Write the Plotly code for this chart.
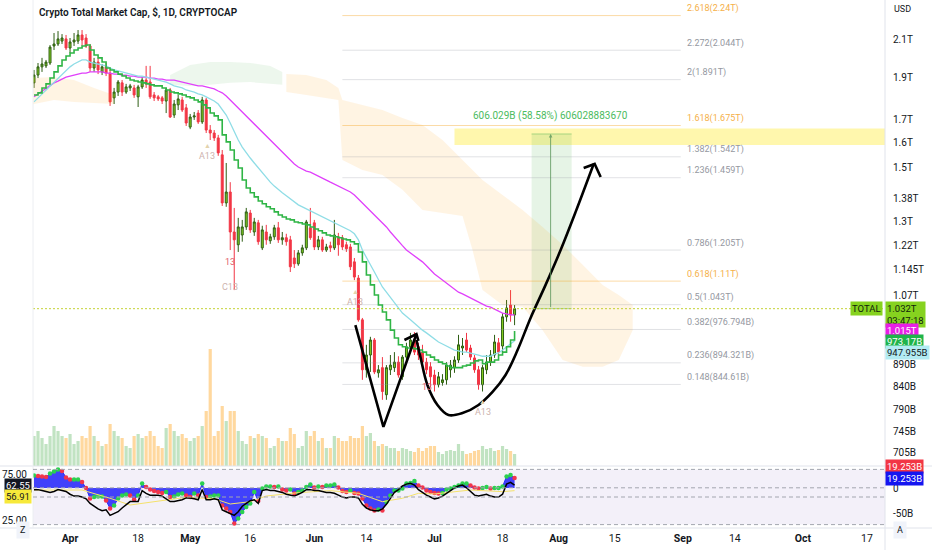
import numpy as np
import pandas as pd
import plotly.graph_objects as go

# ---- daily candles, 23 Mar - 21 Jul 2022, values in trillions of USD ----
dates = pd.date_range("2022-03-23", periods=121, freq="D")

open_t = [1.875, 1.914, 1.956, 1.961, 1.976, 2.067, 2.078, 2.094, 2.106, 2.056,
          2.089, 2.094, 2.128, 2.111, 2.067, 1.950, 1.981, 1.930, 1.956, 1.924,
          1.802, 1.830, 1.875, 1.830, 1.850, 1.850, 1.807, 1.855, 1.889, 1.879,
          1.816, 1.807, 1.802, 1.787, 1.840, 1.722, 1.769, 1.792, 1.755, 1.668,
          1.713, 1.731, 1.691, 1.792, 1.655, 1.642, 1.621, 1.550, 1.365, 1.405,
          1.264, 1.222, 1.254, 1.281, 1.329, 1.264, 1.295, 1.212, 1.264, 1.235,
          1.248, 1.278, 1.238, 1.245, 1.238, 1.180, 1.162, 1.196, 1.212, 1.278,
          1.295, 1.215, 1.238, 1.205, 1.219, 1.212, 1.248, 1.245, 1.222, 1.215,
          1.168, 1.119, 1.002, 0.878, 0.913, 0.950, 0.871, 0.883, 0.822, 0.878,
          0.883, 0.896, 0.862, 0.908, 0.933, 0.950, 0.933, 0.920, 0.896, 0.885,
          0.866, 0.844, 0.849, 0.855, 0.878, 0.883, 0.901, 0.930, 0.950, 0.930,
          0.906, 0.878, 0.844, 0.878, 0.896, 0.913, 0.943, 0.935, 1.010, 1.042,
          1.015]
high_t = [1.940, 1.976, 2.003, 1.992, 2.072, 2.139, 2.150, 2.133, 2.128, 2.111,
          2.139, 2.156, 2.156, 2.133, 2.078, 2.003, 2.003, 1.971, 1.976, 1.940,
          1.850, 1.889, 1.889, 1.870, 1.870, 1.865, 1.865, 1.904, 1.961, 1.961,
          1.830, 1.816, 1.811, 1.850, 1.850, 1.792, 1.816, 1.807, 1.773, 1.727,
          1.736, 1.745, 1.807, 1.802, 1.677, 1.655, 1.634, 1.570, 1.517, 1.442,
          1.347, 1.312, 1.305, 1.347, 1.340, 1.312, 1.305, 1.285, 1.288, 1.258,
          1.288, 1.298, 1.264, 1.258, 1.251, 1.205, 1.205, 1.222, 1.305, 1.347,
          1.305, 1.251, 1.248, 1.225, 1.232, 1.305, 1.261, 1.254, 1.232, 1.225,
          1.180, 1.128, 1.007, 0.938, 0.958, 0.955, 0.889, 0.908, 0.889, 0.913,
          0.920, 0.910, 0.913, 0.943, 0.968, 0.970, 0.943, 0.938, 0.906, 0.896,
          0.878, 0.873, 0.868, 0.896, 0.901, 0.910, 0.963, 0.955, 0.968, 0.938,
          0.913, 0.887, 0.889, 0.913, 0.925, 0.963, 0.955, 1.020, 1.056, 1.084,
          1.042]
low_t = [1.850, 1.899, 1.930, 1.950, 1.966, 2.045, 2.067, 2.078, 2.045, 2.029,
         2.067, 2.078, 2.067, 2.056, 1.930, 1.930, 1.919, 1.914, 1.909, 1.764,
         1.773, 1.811, 1.811, 1.821, 1.835, 1.802, 1.759, 1.845, 1.850, 1.797,
         1.787, 1.787, 1.773, 1.731, 1.709, 1.709, 1.745, 1.736, 1.673, 1.659,
         1.700, 1.682, 1.682, 1.642, 1.612, 1.608, 1.546, 1.354, 1.351, 1.205,
         1.084, 1.199, 1.232, 1.271, 1.261, 1.251, 1.222, 1.205, 1.222, 1.225,
         1.238, 1.228, 1.222, 1.219, 1.137, 1.149, 1.156, 1.187, 1.205, 1.238,
         1.205, 1.205, 1.199, 1.199, 1.199, 1.205, 1.187, 1.205, 1.199, 1.143,
         1.113, 0.997, 0.855, 0.860, 0.873, 0.868, 0.860, 0.811, 0.811, 0.866,
         0.873, 0.860, 0.855, 0.901, 0.925, 0.913, 0.901, 0.889, 0.868, 0.838,
         0.829, 0.838, 0.842, 0.844, 0.860, 0.871, 0.894, 0.913, 0.920, 0.901,
         0.871, 0.833, 0.829, 0.868, 0.887, 0.906, 0.910, 0.920, 0.997, 0.997,
         0.988]
close_t = [1.914, 1.956, 1.971, 1.981, 2.061, 2.078, 2.106, 2.111, 2.056, 2.089,
           2.100, 2.128, 2.100, 2.067, 1.950, 1.981, 1.940, 1.956, 1.924, 1.783,
           1.830, 1.879, 1.830, 1.855, 1.860, 1.816, 1.855, 1.889, 1.870, 1.807,
           1.802, 1.797, 1.787, 1.840, 1.713, 1.773, 1.797, 1.745, 1.686, 1.713,
           1.718, 1.691, 1.792, 1.655, 1.642, 1.621, 1.558, 1.365, 1.405, 1.264,
           1.238, 1.281, 1.281, 1.333, 1.271, 1.298, 1.232, 1.271, 1.238, 1.248,
           1.278, 1.238, 1.245, 1.232, 1.153, 1.162, 1.196, 1.212, 1.298, 1.245,
           1.215, 1.238, 1.205, 1.215, 1.212, 1.254, 1.222, 1.215, 1.209, 1.153,
           1.122, 1.002, 0.878, 0.913, 0.950, 0.873, 0.878, 0.829, 0.883, 0.889,
           0.896, 0.866, 0.908, 0.933, 0.950, 0.920, 0.913, 0.896, 0.878, 0.862,
           0.844, 0.862, 0.855, 0.889, 0.889, 0.901, 0.938, 0.935, 0.925, 0.908,
           0.878, 0.844, 0.883, 0.896, 0.913, 0.945, 0.920, 1.010, 1.034, 1.015,
           1.032]
# volume in billions
volume_b = [150, 175, 140, 110, 150, 200, 175, 150, 140, 160, 110, 125, 150, 140,
            200, 150, 125, 100, 110, 210, 175, 150, 140, 100, 90, 150, 160, 140, 150,
            175, 150, 100, 90, 190, 210, 175, 150, 160, 140, 125, 140, 150, 200, 275,
            585, 150, 175, 300, 225, 275, 275, 175, 125, 110, 150, 140, 160, 150, 140,
            90, 100, 140, 125, 125, 190, 160, 90, 100, 175, 150, 175, 125, 140, 90,
            90, 150, 140, 125, 125, 150, 140, 140, 200, 150, 165, 125, 100, 110, 100,
            90, 90, 75, 90, 85, 75, 70, 90, 75, 90, 100, 100, 70, 60, 75,
            80, 75, 110, 75, 60, 65, 75, 80, 100, 85, 90, 75, 80, 100, 85, 75, 60]

# moving averages (T)
step_line_t = [1.816, 1.826, 1.850, 1.870, 1.899, 1.930, 1.961, 1.992, 2.013, 2.029,
               2.045, 2.056, 2.067, 2.072, 2.045, 2.018, 2.003, 1.981, 1.950, 1.940,
               1.930, 1.919, 1.909, 1.899, 1.889, 1.884, 1.879, 1.875, 1.870, 1.865,
               1.860, 1.860, 1.850, 1.840, 1.830, 1.826, 1.821, 1.816, 1.807, 1.802,
               1.792, 1.783, 1.769, 1.755, 1.731, 1.718, 1.700, 1.634, 1.604, 1.570,
               1.529, 1.497, 1.450, 1.420, 1.402, 1.387, 1.372, 1.362, 1.351, 1.344,
               1.333, 1.322, 1.315, 1.308, 1.305, 1.298, 1.295, 1.291, 1.288, 1.281,
               1.274, 1.268, 1.261, 1.254, 1.251, 1.248, 1.245, 1.241, 1.238, 1.232,
               1.225, 1.199, 1.168, 1.128, 1.099, 1.070, 1.042, 1.023, 1.002, 0.975,
               0.955, 0.938, 0.933, 0.930, 0.930, 0.928, 0.925, 0.920, 0.913, 0.908,
               0.901, 0.896, 0.892, 0.887, 0.883, 0.883, 0.883, 0.887, 0.889, 0.894,
               0.899, 0.901, 0.892, 0.896, 0.896, 0.901, 0.913, 0.920, 0.933, 0.950,
               0.973]
cyan_line_t = [1.783, 1.802, 1.821, 1.840, 1.860, 1.879, 1.899, 1.919, 1.940, 1.956,
               1.971, 1.981, 1.992, 1.992, 1.981, 1.976, 1.971, 1.966, 1.961, 1.950,
               1.940, 1.935, 1.930, 1.924, 1.919, 1.914, 1.909, 1.909, 1.904, 1.899,
               1.894, 1.889, 1.884, 1.879, 1.870, 1.860, 1.855, 1.850, 1.840, 1.835,
               1.830, 1.821, 1.816, 1.807, 1.797, 1.787, 1.773, 1.745, 1.722, 1.686,
               1.646, 1.612, 1.582, 1.558, 1.537, 1.517, 1.497, 1.478, 1.458, 1.442,
               1.427, 1.413, 1.402, 1.391, 1.380, 1.369, 1.358, 1.351, 1.344, 1.336,
               1.329, 1.322, 1.315, 1.308, 1.302, 1.295, 1.288, 1.281, 1.274, 1.268,
               1.258, 1.238, 1.205, 1.180, 1.159, 1.137, 1.113, 1.093, 1.078, 1.062,
               1.048, 1.034, 1.020, 1.010, 1.002, 0.993, 0.983, 0.975, 0.968, 0.960,
               0.953, 0.945, 0.940, 0.935, 0.930, 0.925, 0.923, 0.920, 0.920, 0.918,
               0.915, 0.913, 0.910, 0.910, 0.910, 0.915, 0.918, 0.925, 0.933, 0.940,
               0.948]
magenta_line_t = [1.807, 1.821, 1.835, 1.850, 1.860, 1.875, 1.884, 1.894, 1.904, 1.909,
                  1.914, 1.919, 1.924, 1.924, 1.930, 1.930, 1.930, 1.930, 1.924, 1.924,
                  1.919, 1.919, 1.914, 1.914, 1.909, 1.909, 1.904, 1.904, 1.904, 1.899,
                  1.899, 1.894, 1.894, 1.889, 1.889, 1.889, 1.884, 1.879, 1.875, 1.870,
                  1.865, 1.860, 1.860, 1.855, 1.850, 1.845, 1.835, 1.826, 1.811, 1.792,
                  1.773, 1.755, 1.736, 1.718, 1.700, 1.682, 1.664, 1.646, 1.629, 1.612,
                  1.595, 1.578, 1.562, 1.546, 1.529, 1.513, 1.501, 1.493, 1.485, 1.481,
                  1.474, 1.466, 1.458, 1.450, 1.442, 1.435, 1.427, 1.420, 1.413, 1.405,
                  1.394, 1.380, 1.365, 1.351, 1.336, 1.322, 1.308, 1.295, 1.281, 1.264,
                  1.248, 1.232, 1.219, 1.205, 1.196, 1.187, 1.177, 1.168, 1.156, 1.143,
                  1.131, 1.122, 1.113, 1.105, 1.096, 1.087, 1.078, 1.073, 1.067, 1.062,
                  1.056, 1.050, 1.045, 1.039, 1.036, 1.031, 1.026, 1.020, 1.018, 1.015,
                  1.015]

# cloud bands (T)
cloud_left_dates = ["2022-03-22", "2022-03-28", "2022-04-02", "2022-04-07", "2022-04-12"]
cloud_left_top = [1.899, 1.904, 1.889, 1.850, 1.816]
cloud_left_bot = [1.769, 1.792, 1.783, 1.778, 1.773]
cloud_green_dates = ["2022-04-26", "2022-05-01", "2022-05-06", "2022-05-11", "2022-05-16",
                     "2022-05-21", "2022-05-24"]
cloud_green_top = [1.914, 1.966, 1.981, 1.981, 1.976, 1.961, 1.930]
cloud_green_bot = [1.865, 1.860, 1.865, 1.875, 1.879, 1.870, 1.865]
cloud_main_dates = ["2022-05-25", "2022-05-30", "2022-06-04", "2022-06-07", "2022-06-08",
                    "2022-06-13", "2022-06-18", "2022-06-23", "2022-06-28", "2022-07-03",
                    "2022-07-08", "2022-07-10 12:00", "2022-07-13", "2022-07-18",
                    "2022-07-23", "2022-07-28", "2022-08-02", "2022-08-07", "2022-08-12",
                    "2022-08-16", "2022-08-19 12:00"]
cloud_main_top = [1.919, 1.914, 1.889, 1.850, 1.792, 1.769, 1.745, 1.709, 1.677, 1.612,
                  1.529, 1.489, 1.450, 1.394, 1.340, 1.281, 1.222, 1.159, 1.099, 1.070, 1.042]
cloud_main_bot = [1.830, 1.816, 1.802, 1.792, 1.529, 1.489, 1.470, 1.413, 1.340, 1.329,
                  1.319, 1.205, 1.084, 1.042, 1.037, 0.975, 0.901, 0.885, 0.885, 0.901, 0.975]

# fibonacci extension
fib_ratio = ["2.618", "2.272", "2", "1.618", "1.382", "1.236", "0.786", "0.618", "0.5",
             "0.382", "0.236", "0.148"]
fib_value = [2.24, 2.044, 1.891, 1.675, 1.542, 1.459, 1.205, 1.11, 1.043, 0.976794,
             0.894321, 0.84461]
fib_price = ["2.24T", "2.044T", "1.891T", "1.675T", "1.542T", "1.459T", "1.205T", "1.11T",
             "1.043T", "976.794B", "894.321B", "844.61B"]
fib_start, fib_end, fib_label_x = "2022-06-08", "2022-08-31 12:00", "2022-09-01 12:00"

# hand drawn W and cup (date, T)
w_dates = ["2022-06-11 06:00", "2022-06-18 06:00", "2022-06-26 12:00"]
w_vals = [0.988, 0.755, 0.965]
w_head_dates = ["2022-06-23 12:00", "2022-06-26 12:00", "2022-06-27 00:00"]
w_head_vals = [0.950, 0.965, 0.948]
cup_dates = ["2022-06-26 12:00", "2022-06-27 12:00", "2022-06-29 06:00", "2022-07-01 18:00",
             "2022-07-04 12:00", "2022-07-08", "2022-07-12", "2022-07-15 12:00",
             "2022-07-18 18:00", "2022-07-21 18:00", "2022-07-25", "2022-07-28 18:00",
             "2022-08-01 12:00", "2022-08-05 06:00", "2022-08-09 18:00"]
cup_vals = [0.950, 0.908, 0.843, 0.800, 0.779, 0.783, 0.800, 0.828, 0.866, 0.925,
            1.007, 1.099, 1.205, 1.333, 1.513]
cup_head_dates = ["2022-08-07 06:00", "2022-08-10", "2022-08-11 12:00"]
cup_head_vals = [1.497, 1.513, 1.462]

# target zone and measurement
target_low, target_high, target_start = 1.591, 1.662, "2022-07-06"
measure_start, measure_end, measure_mid = "2022-07-25 06:00", "2022-08-04 06:00", "2022-07-30"
measure_from, measure_to = 1.032, 1.638
last_price = 1.032

# TD sequential marks
td_text = ["A13", "13", "C13", "A13", "13", "A13"]
td_dates = ["2022-05-05 06:00", "2022-05-11", "2022-05-11", "2022-06-11 06:00",
            "2022-06-29 06:00", "2022-07-13"]
td_vals = [1.546, 1.168, 1.093, 1.050, 0.838, 0.786]

# oscillator
osc_blue_b = [25, 24, 23, 22, 29, 33, 37, 34, 21, 17, 17, 17, 12, 0, -21, -18, -17, -17, -25, -41,
              -35, -21, -15, -13, -15, -23, -15, 9, 2, -3, -6, -8, -10, -8, -18, -17, -13, -11, -15, -18,
              -11, -15, 9, -18, -17, -15, -15, -35, -41, -48, -71, -61, -48, -38, -31, -8, -26, -1, 3, 3,
              2, 3, -3, -5, -3, -11, -8, -5, 2, 7, 1, 3, 2, 5, 5, 7, 1, -6, -8, -5,
              -10, -11, -21, -35, -41, -45, -43, -45, -28, -15, -5, -5, -1, 9, 10, 14, 5, 1, -5, -8,
              -10, -11, -10, -3, -1, 2, 5, 9, 9, 5, 1, -1, 0, 2, -1, 0, 0, 3, 23, 26, 20]
osc_black = [58, 58, 57, 56, 55, 56, 58, 57, 56, 53, 51, 51, 50, 48, 43, 40, 37, 35, 36, 30,
             32, 34, 38, 42, 45, 45, 45, 57, 54, 52, 52, 52, 51, 48, 45, 45, 46, 47, 49, 49,
             48, 47, 58, 47, 47, 48, 47, 36, 34, 32, 30, 34, 40, 43, 46, 47, 43, 57, 58, 57,
             57, 56, 55, 53, 52, 51, 53, 55, 58, 58, 57, 57, 56, 55, 55, 54, 52, 50, 49, 50,
             50, 49, 42, 38, 36, 35, 35, 37, 42, 48, 55, 58, 62, 64, 65, 63, 58, 55, 52, 50,
             48, 49, 51, 54, 57, 60, 62, 63, 60, 56, 52, 51, 52, 53, 51, 50, 50, 53, 64, 66, 63]
osc_yellow_dates = ["2022-03-23", "2022-04-04", "2022-04-11", "2022-04-16", "2022-04-25",
                    "2022-04-30", "2022-05-07", "2022-05-11", "2022-05-16", "2022-05-20",
                    "2022-05-28", "2022-06-05", "2022-06-12", "2022-06-18", "2022-06-23",
                    "2022-06-27", "2022-07-01", "2022-07-10", "2022-07-18", "2022-07-21"]
osc_yellow = [57.6, 57.6, 48.6, 41.3, 46.7, 49.6, 48.2, 42.4, 44.9, 51.1, 54.7, 56.9, 54.0,
              44.9, 48.6, 54.0, 53.3, 57.6, 55.8, 56.9]
osc_bands = [80, 60, 50, 20]

price_ticks = [2.1, 1.9, 1.7, 1.6, 1.5, 1.38, 1.3, 1.22, 1.145, 1.07, 0.89, 0.84, 0.79, 0.745, 0.705]
price_tick_text = ["2.1T", "1.9T", "1.7T", "1.6T", "1.5T", "1.38T", "1.3T", "1.22T", "1.145T",
                   "1.07T", "890B", "840B", "790B", "745B", "705B"]
date_ticks = ["2022-04-01", "2022-04-18", "2022-05-01", "2022-05-16", "2022-06-01", "2022-06-14",
              "2022-07-01", "2022-07-18", "2022-08-01", "2022-08-15", "2022-09-01", "2022-09-14",
              "2022-10-01", "2022-10-17"]
date_tick_text = ["<b>Apr</b>", "18", "<b>May</b>", "16", "<b>Jun</b>", "14", "<b>Jul</b>", "18",
                  "<b>Aug</b>", "15", "<b>Sep</b>", "14", "<b>Oct</b>", "17"]

FONT = "Roboto, Arial, sans-serif"
PANE = 62 / 528  # oscillator pane height share
L10 = np.log10

traces = []


def band(d, top, bot, color):
    return go.Scatter(x=list(d) + list(d)[::-1], y=list(top) + list(bot)[::-1],
                      fill="toself", fillcolor=color, line=dict(width=0),
                      mode="lines", hoverinfo="skip", yaxis="y")


orange = "rgba(255,152,0,0.11)"
traces.append(band(cloud_left_dates, cloud_left_top, cloud_left_bot, orange))
traces.append(band(cloud_green_dates, cloud_green_top, cloud_green_bot, "rgba(76,175,80,0.10)"))
traces.append(band(cloud_main_dates, cloud_main_top, cloud_main_bot, orange))

# fib lines
for r, v in zip(fib_ratio, fib_value):
    col = "rgba(245,166,35,0.4)" if r.endswith("618") else "rgba(149,152,161,0.28)"
    traces.append(go.Scatter(x=[fib_start, fib_end], y=[v, v], mode="lines",
                             line=dict(color=col, width=1), hoverinfo="skip"))

# volume
vol_colors = ["rgba(76,175,80,0.35)" if c >= o else "rgba(255,152,0,0.38)"
              for o, c in zip(open_t, close_t)]
traces.append(go.Bar(x=dates, y=volume_b, marker=dict(color=vol_colors, line=dict(width=0)),
                     yaxis="y2", hoverinfo="skip"))

# moving averages
traces.append(go.Scatter(x=dates, y=magenta_line_t, mode="lines",
                         line=dict(color="#e040fb", width=1.3)))
traces.append(go.Scatter(x=dates, y=cyan_line_t, mode="lines",
                         line=dict(color="#8fdde6", width=1.3)))
traces.append(go.Scatter(x=dates, y=step_line_t, mode="lines",
                         line=dict(color="#2fb546", width=1.6, shape="hv")))

# candles
traces.append(go.Candlestick(
    x=dates, open=open_t, high=high_t, low=low_t, close=close_t,
    increasing=dict(line=dict(color="#2e5e14", width=1), fillcolor="#86d21f"),
    decreasing=dict(line=dict(color="#f23645", width=1), fillcolor="#f23645"),
    whiskerwidth=0, hoverinfo="skip"))

# hand drawings
for xs, ys, shp in [(w_dates, w_vals, "linear"), (w_head_dates, w_head_vals, "linear"),
                    (cup_dates, cup_vals, "spline"), (cup_head_dates, cup_head_vals, "linear")]:
    traces.append(go.Scatter(x=xs, y=ys, mode="lines",
                             line=dict(color="#000000", width=2.6, shape=shp)))

# measurement box edges
for v in [measure_from, measure_to]:
    traces.append(go.Scatter(x=[measure_start, measure_end], y=[v, v], mode="lines",
                             line=dict(color="rgba(76,175,80,0.45)", width=1)))

# oscillator
n = len(osc_blue_b)
dot_colors = ["#2bd14f" if i == 0 or osc_blue_b[i] >= osc_blue_b[i - 1] else "#f2364b"
              for i in range(n)]
traces.append(go.Scatter(x=dates, y=osc_blue_b, mode="lines+markers", fill="tozeroy",
                         fillcolor="rgba(40,40,250,0.88)", line=dict(color="#2828fa", width=1),
                         marker=dict(color=dot_colors, size=4.5), yaxis="y3"))
traces.append(go.Scatter(x=osc_yellow_dates, y=osc_yellow, mode="lines",
                         line=dict(color="#f5e26b", width=1), yaxis="y4"))
traces.append(go.Scatter(x=dates, y=osc_black, mode="lines",
                         line=dict(color="#000000", width=1.5), yaxis="y4"))

fig = go.Figure(data=traces)

shapes = [
    # oscillator background and bands
    dict(type="rect", xref="paper", yref="y4", x0=0, x1=1, y0=20, y1=80,
         fillcolor="rgba(126,87,194,0.09)", line=dict(width=0), layer="below"),
    # target zone
    dict(type="rect", xref="x", yref="y", x0=target_start, x1="2022-10-21 12:00",
         y0=target_low, y1=target_high, fillcolor="rgba(255,235,59,0.42)",
         line=dict(width=0), layer="below"),
    # measurement box
    dict(type="rect", xref="x", yref="y", x0=measure_start, x1=measure_end,
         y0=measure_from, y1=measure_to, fillcolor="rgba(76,175,80,0.14)",
         line=dict(width=0), layer="below"),
    # last price line
    dict(type="line", xref="paper", yref="y", x0=0, x1=1, y0=last_price, y1=last_price,
         line=dict(color="rgba(190,205,30,0.9)", width=1, dash="2px,2px")),
    # pane separators
    dict(type="line", xref="paper", yref="paper", x0=-33 / 852, x1=1 + 47 / 852, y0=PANE, y1=PANE,
         line=dict(color="#e0e3eb", width=1)),
    dict(type="line", xref="paper", yref="paper", x0=-33 / 852, x1=1 + 47 / 852, y0=0, y1=0,
         line=dict(color="#e0e3eb", width=1)),
    dict(type="line", xref="paper", yref="paper", x0=1, x1=1, y0=-22 / 528, y1=1,
         line=dict(color="#e0e3eb", width=1)),
    dict(type="line", xref="paper", yref="paper", x0=0, x1=0, y0=0, y1=1,
         line=dict(color="#eceef2", width=1)),
]
for b in osc_bands:
    shapes.append(dict(type="line", xref="paper", yref="y4", x0=0, x1=1, y0=b, y1=b,
                       line=dict(color="#a3a6af", width=1, dash="4px,3px")))

ann = []
# title
ann.append(dict(xref="paper", yref="paper", x=0, y=1, xshift=4, yshift=-12, xanchor="left",
                yanchor="middle", showarrow=False,
                text="Crypto Total Market Cap, $, 1D, CRYPTOCAP",
                font=dict(size=10, color="#131722", family=FONT, weight=600)))
ann.append(dict(xref="paper", yref="paper", x=1, y=1, xshift=7, yshift=-9, xanchor="left",
                yanchor="middle", showarrow=False, text="USD",
                font=dict(size=9, color="#131722")))
# fib labels
for r, v, p in zip(fib_ratio, fib_value, fib_price):
    col = "#f5b04a" if r.endswith("618") else "#9598a1"
    ann.append(dict(x=fib_label_x, y=L10(v), xref="x", yref="y", xanchor="left",
                    yanchor="middle", yshift=7, showarrow=False, text=f"{r}({p})",
                    font=dict(size=9, color=col)))
# measurement
ann.append(dict(x=measure_mid, y=L10(1.718), xref="x", yref="y", showarrow=False,
                text="606.029B (58.58%) 606028883670", font=dict(size=10, color="#4cbb5e")))
ann.append(dict(x=measure_mid, y=L10(measure_to), ax=measure_mid, ay=L10(measure_from),
                xref="x", yref="y", axref="x", ayref="y", text="", showarrow=True,
                arrowhead=2, arrowsize=0.7, arrowwidth=1, arrowcolor="rgba(90,150,90,0.8)"))
# TD marks
for t, d, v in zip(td_text, td_dates, td_vals):
    col = "#e35d6a" if t == "13" else "#cdb3ae"
    ann.append(dict(x=d, y=L10(v), xref="x", yref="y", showarrow=False, text=t,
                    font=dict(size=9, color=col)))
    if t.startswith("A"):
        ann.append(dict(x=d, y=L10(v), xref="x", yref="y", yshift=10, showarrow=False,
                        text="▲", font=dict(size=7, color="#e3d3ad")))

# price tags on right scale


def tag(y, text, bg, fg, yref="y", xanchor="left", xshift=0, yanchor="middle", yshift=0, x=1):
    return dict(xref="paper", yref=yref, x=x, y=y, xanchor=xanchor, yanchor=yanchor,
                xshift=xshift, yshift=yshift, showarrow=False, text=text, bgcolor=bg,
                borderpad=1, align="left", font=dict(size=9.5, color=fg))


ann.append(tag(L10(last_price), "TOTAL", "#86d21f", "#10240a", xanchor="right", xshift=-2))
ann.append(tag(L10(last_price), "1.032T<br>03:47:18", "#86d21f", "#10240a",
               yanchor="top", yshift=8))
ann.append(tag(L10(0.975), "1.015T", "#e91ee6", "#ffffff"))
ann.append(tag(L10(0.946), "973.17B", "#1fb44a", "#ffffff"))
ann.append(tag(L10(0.918), "947.955B", "#b2ebf2", "#131722"))
ann.append(tag(43, "19.253B", "#f23645", "#ffffff", yref="y3"))
ann.append(tag(19.253, "19.253B", "#1515f0", "#ffffff", yref="y3"))
ann.append(tag(62.55, "62.55", "#131722", "#ffffff", yref="y4", xanchor="right", x=0, xshift=-1))
ann.append(tag(50.5, "56.91", "#f7e93a", "#131722", yref="y4", xanchor="right", x=0, xshift=-1))
# corner buttons
ann.append(dict(xref="paper", yref="paper", x=(16 - 33) / 852, y=-11 / 528, showarrow=False,
                text="Z", bgcolor="#f0f3fa", borderpad=3, font=dict(size=9, color="#131722")))
ann.append(dict(xref="paper", yref="paper", x=(907 - 33) / 852, y=-11 / 528, showarrow=False,
                text="A", bgcolor="#f0f3fa", borderpad=3, font=dict(size=9, color="#131722")))

fig.update_layout(
    width=932, height=550,
    margin=dict(l=33, r=47, t=0, b=22, autoexpand=False),
    paper_bgcolor="white", plot_bgcolor="white",
    showlegend=False, hovermode=False,
    font=dict(family=FONT, size=10, color="#131722"),
    shapes=shapes, annotations=ann,
    xaxis=dict(type="date", range=["2022-03-22 18:00", "2022-10-21 12:00"], anchor="y3",
               tickvals=date_ticks, ticktext=date_tick_text, showgrid=False, zeroline=False,
               showline=False, ticks="", ticklen=0, rangeslider=dict(visible=False),
               automargin=False, ticklabelstandoff=2,
               tickfont=dict(size=10.5, color="#131722")),
    yaxis=dict(domain=[PANE, 1], type="log", range=[-0.16698, 0.36814], side="right",
               anchor="x", tickvals=price_ticks, ticktext=price_tick_text, showgrid=False,
               zeroline=False, ticks="", ticklen=0, ticklabelstandoff=7, automargin=False,
               tickfont=dict(size=10, color="#131722")),
    yaxis2=dict(overlaying="y", anchor="x", range=[0, 2330], visible=False, automargin=False),
    yaxis3=dict(domain=[0, PANE], range=[-80, 44], side="right", anchor="x",
                tickvals=[0, -50], ticktext=["0", "-50B"], showgrid=False, zeroline=False,
                ticks="", ticklen=0, ticklabelstandoff=7, automargin=False,
                tickfont=dict(size=10, color="#131722")),
    yaxis4=dict(overlaying="y3", anchor="x", side="left", range=[16.3, 83.7],
                tickvals=[75, 25], ticktext=["75.00", "25.00"], showgrid=False,
                zeroline=False, ticks="", ticklen=0, ticklabelstandoff=5, automargin=False,
                tickfont=dict(size=10, color="#131722")),
)

# the page body has a default 8px margin; drop it so the figure fills the window exactly
fig.write_html("out.html", config={"displayModeBar": False},
               post_script="document.body.style.margin='0px';")
